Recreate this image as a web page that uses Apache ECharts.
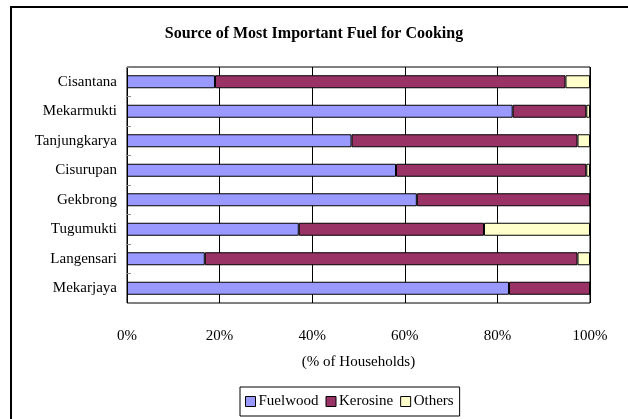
<!DOCTYPE html>
<html>
<head>
<meta charset="utf-8">
<script src="https://cdn.jsdelivr.net/npm/echarts@6/dist/echarts.min.js"></script>
<style>
html, body { margin: 0; padding: 0; background: #fff; }
#chart { width: 628px; height: 419px; }
</style>
</head>
<body>
<div id="chart"></div>
<script>
// villages, top to bottom
var villages = ['Cisantana', 'Mekarmukti', 'Tanjungkarya', 'Cisurupan', 'Gekbrong', 'Tugumukti', 'Langensari', 'Mekarjaya'];
// % of households
var fuelwood = [19.0, 83.3, 48.5, 58.1, 62.6, 37.1, 16.8, 82.5];
var kerosine = [75.7, 15.9, 48.8, 41.1, 37.4, 40.0, 80.5, 17.5];
var others = [5.3, 0.8, 2.7, 0.8, 0, 22.9, 2.7, 0];
var xTicks = ['0%', '20%', '40%', '60%', '80%', '100%'];

var font = '"Liberation Serif", "DejaVu Serif", serif';
var chart = echarts.init(document.getElementById('chart'));

function barSeries(name, data, color) {
    return {
        name: name,
        type: 'bar',
        stack: 'fuel',
        barWidth: 13,
        data: data,
        itemStyle: {
            color: color,
            borderColor: '#000',
            borderWidth: 1
        },
        emphasis: { disabled: true }
    };
}

var option = {
    animation: false,
    backgroundColor: '#fff',
    textStyle: { fontFamily: font, color: '#000' },
    title: {
        text: 'Source of Most Important Fuel for Cooking',
        left: 'center',
        top: 21,
        textStyle: { fontFamily: font, fontSize: 16, fontWeight: 'bold', color: '#000' }
    },
    graphic: [{
        type: 'rect',
        z: -10,
        shape: { x: 11, y: 7, width: 700, height: 500 },
        style: { fill: null, stroke: '#000', lineWidth: 2 }
    }],
    grid: {
        left: 127,
        right: 38,
        top: 67,
        bottom: 116,
        show: true,
        borderColor: '#000',
        borderWidth: 1
    },
    legend: {
        data: ['Fuelwood', 'Kerosine', 'Others'],
        left: 240,
        top: 387,
        icon: 'rect',
        itemWidth: 10,
        itemHeight: 10,
        itemGap: 7,
        padding: [7, 6, 7, 5],
        borderColor: '#000',
        borderWidth: 1,
        itemStyle: { borderColor: '#000', borderWidth: 1 },
        textStyle: { fontFamily: font, fontSize: 15, color: '#000', padding: [0, 0, 0, -2] }
    },
    xAxis: {
        type: 'value',
        min: 0,
        max: 100,
        interval: 20,
        name: '(% of Households)',
        nameLocation: 'center',
        nameGap: 52,
        nameTextStyle: { fontFamily: font, fontSize: 15, color: '#000' },
        axisLine: { show: false },
        axisTick: { show: false },
        axisLabel: {
            fontFamily: font,
            fontSize: 15,
            color: '#000',
            margin: 26,
            formatter: function (v) { return xTicks[v / 20]; }
        },
        splitLine: { show: true, lineStyle: { color: '#000', width: 1 } }
    },
    yAxis: {
        type: 'category',
        data: villages,
        inverse: true,
        axisLine: { show: false },
        axisTick: { show: true, inside: true, length: 4, lineStyle: { color: '#888' } },
        axisLabel: { fontFamily: font, fontSize: 15, color: '#000', margin: 10 }
    },
    series: [
        barSeries('Fuelwood', fuelwood, '#9999FF'),
        barSeries('Kerosine', kerosine, '#993366'),
        barSeries('Others', others, '#FFFFCC')
    ]
};

option && chart.setOption(option);
</script>
</body>
</html>
